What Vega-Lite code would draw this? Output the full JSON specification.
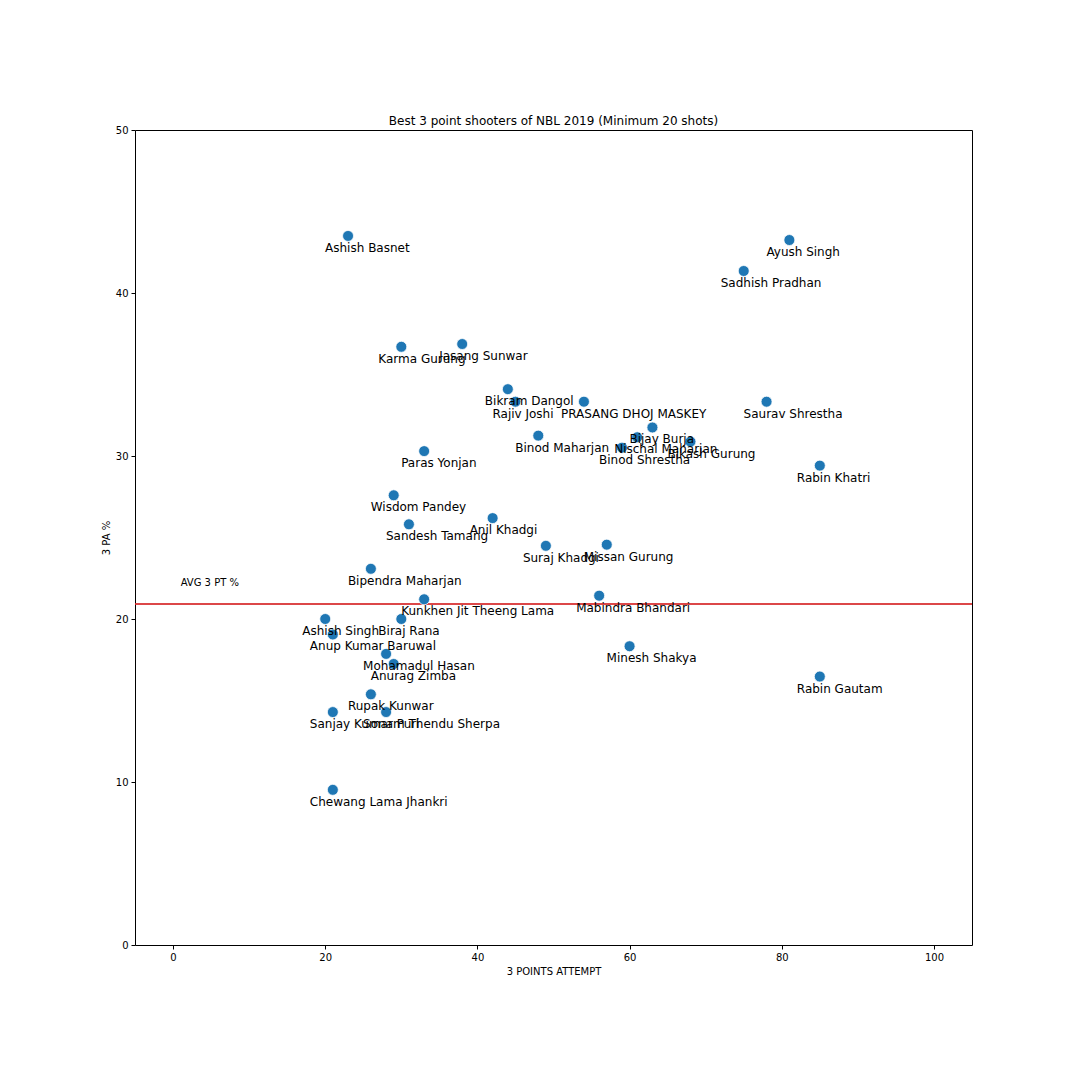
{
  "$schema": "https://vega.github.io/schema/vega-lite/v6.json",
  "width": 837,
  "height": 815,
  "autosize": {"type": "none"},
  "padding": {"left": 135, "top": 130, "right": 108, "bottom": 135},
  "background": "white",
  "config": {
    "font": "DejaVu Sans",
    "view": {"stroke": "black", "strokeWidth": 1},
    "axis": {
      "domain": false,
      "grid": false,
      "tickColor": "black",
      "tickSize": 4,
      "tickWidth": 1,
      "labelColor": "black",
      "labelFontSize": 10,
      "labelFont": "DejaVu Sans",
      "titleFont": "DejaVu Sans",
      "titleFontSize": 10,
      "titleFontWeight": "normal",
      "titleColor": "black",
      "labelPadding": 3
    },
    "title": {"font": "DejaVu Sans", "fontSize": 12, "fontWeight": "normal", "color": "black", "offset": -3}
  },
  "title": {"text": "Best 3 point shooters of NBL 2019 (Minimum 20 shots)", "anchor": "middle"},
  "data": {
    "values": [
      {"name": "Ashish Basnet", "attempts": 23, "pct": 43.5},
      {"name": "Ayush Singh", "attempts": 81, "pct": 43.25},
      {"name": "Sadhish Pradhan", "attempts": 75, "pct": 41.35},
      {"name": "Karma Gurung", "attempts": 30, "pct": 36.7},
      {"name": "Jasang Sunwar", "attempts": 38, "pct": 36.87},
      {"name": "Bikram Dangol", "attempts": 44, "pct": 34.1},
      {"name": "Rajiv Joshi", "attempts": 45, "pct": 33.33},
      {"name": "PRASANG DHOJ MASKEY", "attempts": 54, "pct": 33.33},
      {"name": "Saurav Shrestha", "attempts": 78, "pct": 33.33},
      {"name": "Bijay Burja", "attempts": 63, "pct": 31.75},
      {"name": "Nischal Maharjan", "attempts": 61, "pct": 31.15},
      {"name": "Binod Shrestha", "attempts": 59, "pct": 30.51},
      {"name": "Bikash Gurung", "attempts": 68, "pct": 30.88},
      {"name": "Binod Maharjan", "attempts": 48, "pct": 31.25},
      {"name": "Paras Yonjan", "attempts": 33, "pct": 30.3},
      {"name": "Rabin Khatri", "attempts": 85, "pct": 29.41},
      {"name": "Wisdom Pandey", "attempts": 29, "pct": 27.59},
      {"name": "Anil Khadgi", "attempts": 42, "pct": 26.19},
      {"name": "Sandesh Tamang", "attempts": 31, "pct": 25.81},
      {"name": "Suraj Khadgi", "attempts": 49, "pct": 24.49},
      {"name": "Missan Gurung", "attempts": 57, "pct": 24.56},
      {"name": "Bipendra Maharjan", "attempts": 26, "pct": 23.08},
      {"name": "Kunkhen Jit Theeng Lama", "attempts": 33, "pct": 21.21},
      {"name": "Mabindra Bhandari", "attempts": 56, "pct": 21.43},
      {"name": "Ashish Singh", "attempts": 20, "pct": 20.0},
      {"name": "Biraj Rana", "attempts": 30, "pct": 20.0},
      {"name": "Anup Kumar Baruwal", "attempts": 21, "pct": 19.05},
      {"name": "Mohamadul Hasan", "attempts": 28, "pct": 17.86},
      {"name": "Anurag Zimba", "attempts": 29, "pct": 17.24},
      {"name": "Minesh Shakya", "attempts": 60, "pct": 18.33},
      {"name": "Rabin Gautam", "attempts": 85, "pct": 16.47},
      {"name": "Rupak Kunwar", "attempts": 26, "pct": 15.38},
      {"name": "Sanjay Kumar Puri", "attempts": 21, "pct": 14.29},
      {"name": "Sonam Thendu Sherpa", "attempts": 28, "pct": 14.29},
      {"name": "Chewang Lama Jhankri", "attempts": 21, "pct": 9.52}
    ]
  },
  "layer": [
    {
      "data": {"values": [{"avg": 20.92, "label": "AVG 3 PT %", "lx": 1, "ly": 22}]},
      "mark": {"type": "rule", "color": "#d62728", "opacity": 0.85, "strokeWidth": 2},
      "encoding": {"y": {"field": "avg", "type": "quantitative"}}
    },
    {
      "data": {"values": [{"avg": 20.92, "label": "AVG 3 PT %", "lx": 1, "ly": 22}]},
      "mark": {"type": "text", "align": "left", "baseline": "alphabetic", "fontSize": 10, "color": "black", "font": "DejaVu Sans"},
      "encoding": {
        "x": {"field": "lx", "type": "quantitative"},
        "y": {"field": "ly", "type": "quantitative"},
        "text": {"field": "label"}
      }
    },
    {
      "mark": {"type": "circle", "size": 120, "color": "#1f77b4", "opacity": 1, "stroke": "white", "strokeWidth": 0.75},
      "encoding": {
        "x": {"field": "attempts", "type": "quantitative", "scale": {"domain": [-5, 105], "nice": false, "zero": false},
          "axis": {"values": [0, 20, 40, 60, 80, 100], "title": "3 POINTS ATTEMPT"}},
        "y": {"field": "pct", "type": "quantitative", "scale": {"domain": [0, 50], "nice": false},
          "axis": {"values": [0, 10, 20, 30, 40, 50], "title": "3 PA %"}}
      }
    },
    {
      "mark": {"type": "text", "align": "left", "baseline": "alphabetic", "dx": -23, "dy": 16, "fontSize": 12, "color": "black", "font": "DejaVu Sans"},
      "encoding": {
        "x": {"field": "attempts", "type": "quantitative"},
        "y": {"field": "pct", "type": "quantitative"},
        "text": {"field": "name"}
      }
    }
  ]
}
